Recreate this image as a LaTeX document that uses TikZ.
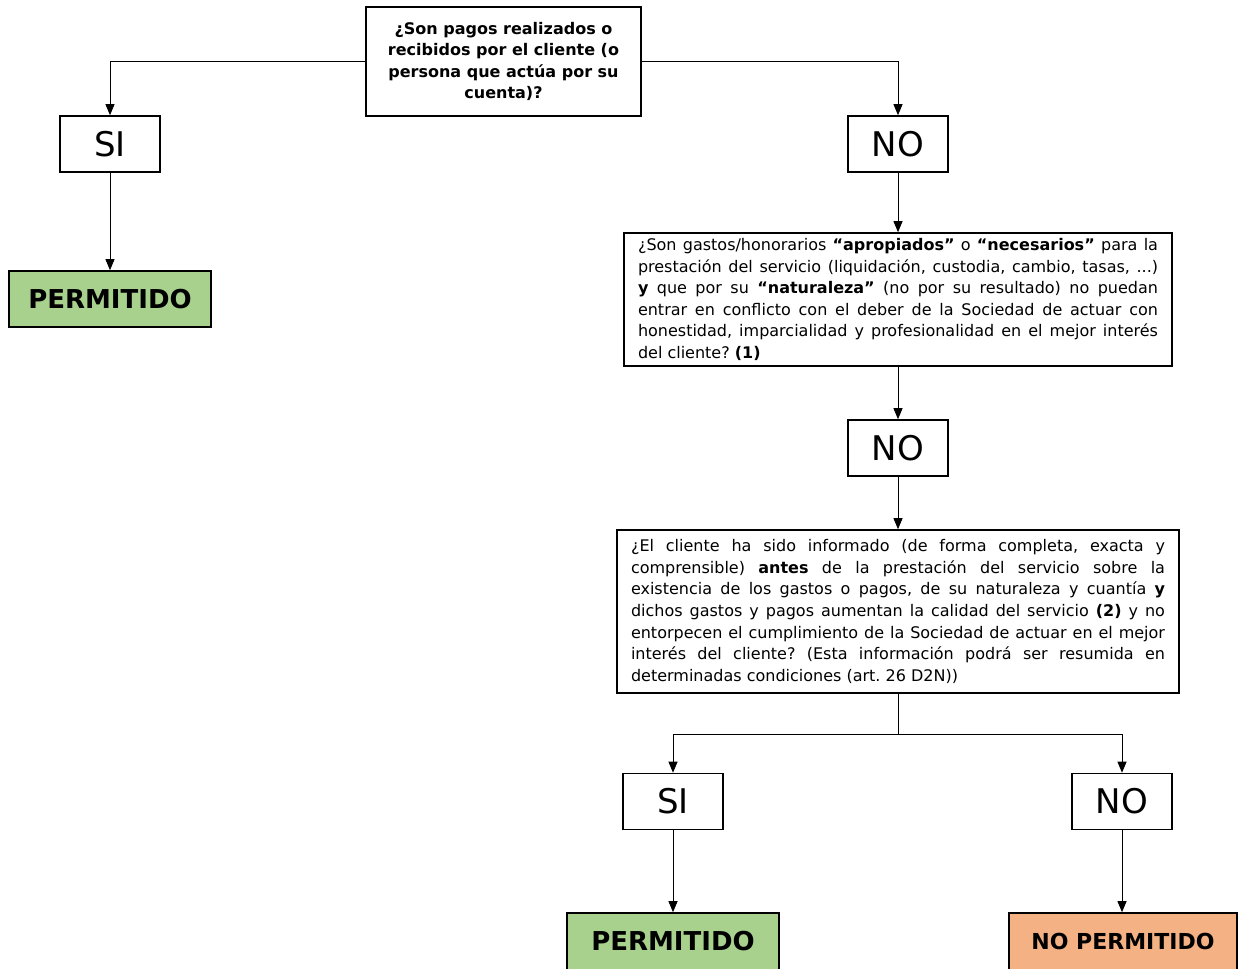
\documentclass[tikz,border=0pt]{standalone}
\usepackage{fontspec}
\setmainfont{DejaVu Sans}
\usetikzlibrary{arrows.meta}
\definecolor{verde}{HTML}{A9D18E}
\definecolor{naranja}{HTML}{F4B183}
\frenchspacing
\tikzset{
  caja/.style={draw,line width=1.6pt,inner sep=0pt,minimum height=56pt},
  resp/.style={caja,minimum width=100pt,font=\fontsize{34}{38}\selectfont},
  pregunta/.style={draw,line width=1.6pt,align=justify,inner xsep=14pt,inner ysep=2pt,
    font=\fontsize{16}{21.6}\selectfont},
  flecha/.style={-{Triangle[length=11pt,width=9pt]},line width=0.9pt},
  linea/.style={line width=0.9pt}
}
\begin{document}
\begin{tikzpicture}[x=1pt,y=-1pt]
    \useasboundingbox (0,0) rectangle (1240,969);

    % preguntas
    \node[caja,align=center,minimum width=275pt,minimum height=109pt,
      font=\bfseries\fontsize{16}{21.6}\selectfont] (pagos) at (503.5,61.5)
      {¿Son pagos realizados o\\recibidos por el cliente (o\\persona que actúa por su\\cuenta)?};
    \node[pregunta,text width=520pt,minimum height=133pt] (gastos) at (898,299.5)
      {¿Son gastos/honorarios \textbf{“apropiados”} o \textbf{“necesarios”} para la\linebreak
       prestación del servicio (liquidación, custodia, cambio, tasas, ...)\linebreak
       \textbf{y} que por su \textbf{“naturaleza”} (no por su resultado) no puedan\linebreak
       entrar en conflicto con el deber de la Sociedad de actuar con\linebreak
       honestidad, imparcialidad y profesionalidad en el mejor interés\linebreak
       del cliente? \textbf{(1)}};
    \node[pregunta,text width=534pt,minimum height=163pt] (informado) at (898,611.5)
      {¿El cliente ha sido informado (de forma completa, exacta y\linebreak
       comprensible) \textbf{antes} de la prestación del servicio sobre la\linebreak
       existencia de los gastos o pagos, de su naturaleza y cuantía \textbf{y}\linebreak
       dichos gastos y pagos aumentan la calidad del servicio \textbf{(2)} y no\linebreak
       entorpecen el cumplimiento de la Sociedad de actuar en el mejor\linebreak
       interés del cliente? (Esta información podrá ser resumida en\linebreak
       determinadas condiciones (art. 26 D2N))};

    % respuestas
    \node[resp] (si1) at (110,144) {SI};
    \node[resp] (no1) at (898,144) {NO};
    \node[resp] (no2) at (898,448) {NO};
    \node[resp] (si2) at (673,801.5) {SI};
    \node[resp] (no3) at (1122,801.5) {NO};
    \coordinate (reparto) at (898,734);

    % resultados
    \node[caja,fill=verde,minimum width=202pt,font=\bfseries\fontsize{26}{30}\selectfont]
      (perm1) at (110,299) {PERMITIDO};
    \node[caja,fill=verde,minimum width=212pt,minimum height=57pt,
      font=\bfseries\fontsize{26}{30}\selectfont] (perm2) at (673,941.5) {PERMITIDO};
    \node[caja,fill=naranja,minimum width=228pt,minimum height=57pt,
      font=\bfseries\fontsize{22}{26}\selectfont] (noperm) at (1123,941.5) {NO PERMITIDO};

    \draw[flecha] (pagos.west) -| (si1.north);
    \draw[flecha] (pagos.east) -| (no1.north);
    \draw[flecha] (si1) -- (perm1);
    \draw[flecha] (no1) -- (gastos);
    \draw[flecha] (gastos) -- (no2);
    \draw[flecha] (no2) -- (informado);
    \draw[linea] (informado) -- (reparto);
    \draw[flecha] (reparto) -| (si2.north);
    \draw[flecha] (reparto) -| (no3.north);
    \draw[flecha] (si2) -- (perm2);
    \draw[flecha] (no3) -- (no3 |- noperm.north);
\end{tikzpicture}
\end{document}
